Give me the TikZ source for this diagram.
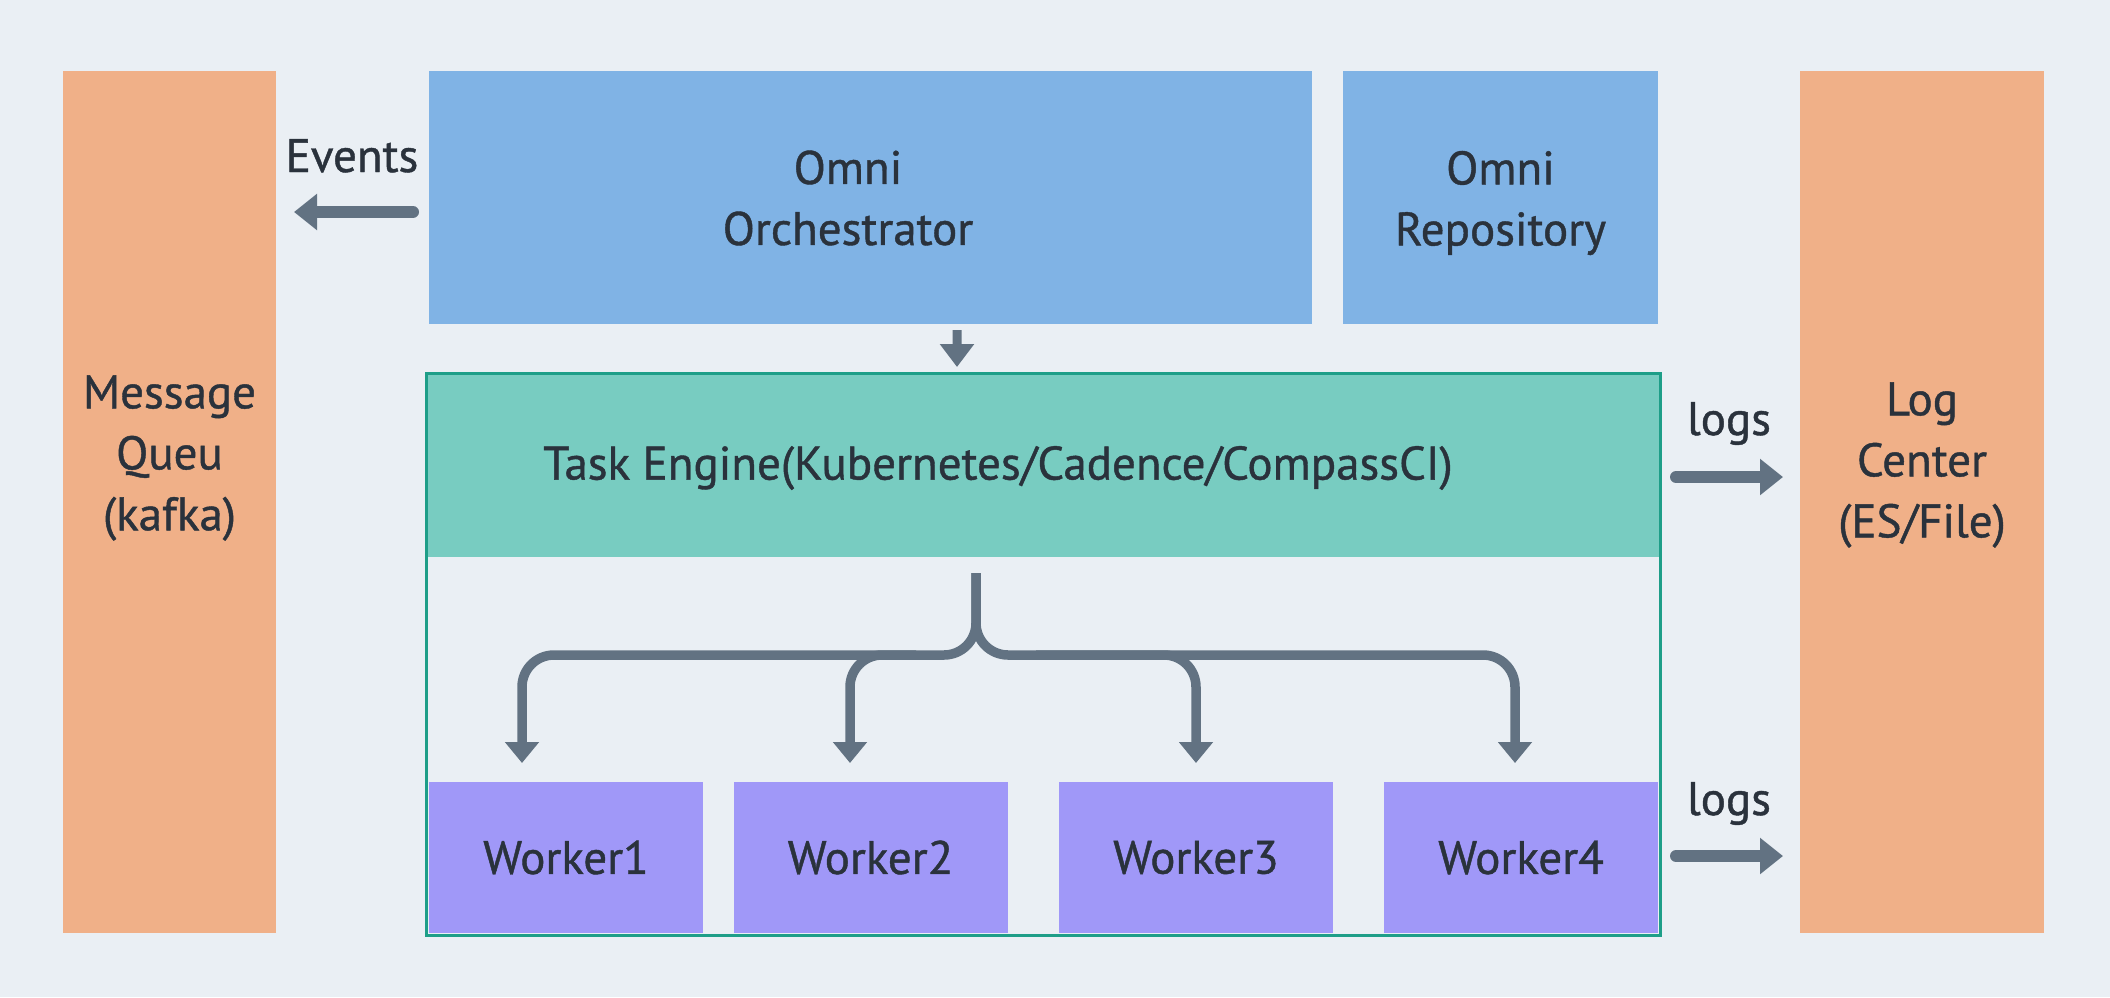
\documentclass[tikz,border=0pt]{standalone}
\usepackage{fontspec}
\setmainfont{PT Sans}[FakeBold=0.9]
\usetikzlibrary{arrows.meta,calc}
\definecolor{bg}{HTML}{EAEFF4}
\definecolor{orangebox}{HTML}{F0B088}
\definecolor{bluebox}{HTML}{80B3E5}
\definecolor{tealbox}{HTML}{78CCC1}
\definecolor{tealline}{HTML}{1E9E88}
\definecolor{purplebox}{HTML}{A098F8}
\definecolor{arrowc}{HTML}{627282}
\definecolor{txt}{HTML}{2A323C}
\tikzset{
  box/.style={inner sep=0pt, outer sep=0pt, draw=none},
  lbl/.style={text=txt, font=\fontsize{23.5}{30.5}\selectfont, align=center, inner sep=0pt},
  big/.style={draw=arrowc, line width=6pt, line cap=round, -{Triangle[width=17.5pt,length=11.5pt]}},
  small/.style={draw=arrowc, line width=4.5pt, -{Triangle[width=16.5pt,length=11.5pt]}},
  br/.style={draw=arrowc, line width=4.75pt, rounded corners=16pt, -{Triangle[width=16.5pt,length=10.5pt]}},
}
\begin{document}
\begin{tikzpicture}[x=0.5pt,y=-0.5pt]
\fill[bg] (0,0) rectangle (2110,997);
\useasboundingbox (0,0) rectangle (2110,997);

% side columns
\node[box, fill=orangebox, minimum width=106.5pt, minimum height=431.15pt] (mq) at (169.5,501.85) {};
\node[box, fill=orangebox, minimum width=122pt, minimum height=431.15pt] (log) at (1922,501.85) {};
\node[lbl] (mqt) at (169.5,458) {Message\\Queu\\(kafka)};
\node[lbl] (logt) at (1922,465) {Log\\Center\\(ES/File)};

% top boxes
\node[box, fill=bluebox, minimum width=441.7pt, minimum height=126.65pt] (orch) at (870.3,197.35) {};
\node[box, fill=bluebox, minimum width=157.5pt, minimum height=126.65pt] (repo) at (1500.5,197.35) {};
\node[lbl] (orcht) at (848,198) {Omni\\Orchestrator};
\node[lbl] (repot) at (1500.5,203) {Omni\\Repository};

% task engine container
\node[box, minimum width=617pt, minimum height=281pt] (cont) at (1043,654) {};
\node[box, fill=tealbox, minimum width=617pt, minimum height=92pt] (hdr) at (1043,465) {};
\node[lbl] (hdrt) at (998,468) {Task Engine(Kubernetes/Cadence/CompassCI)};

% workers
\foreach \n/\cx in {1/566,2/870.5,3/1196,4/1521}{
  \node[box, fill=purplebox, minimum width=137pt, minimum height=75.5pt] (w\n) at (\cx,857.5) {};
  \node[lbl] (w\n t) at (\cx,857.5) {Worker\n};
}
\draw[tealline, line width=1.5pt] (cont.north west) rectangle (cont.south east);

% Events arrow
\coordinate (evs) at ($(orch.west)+(-15.6,14.65)$);
\draw[big] (evs) -- ($(evs -| mq.east)+(18,0)$);
\node[lbl, anchor=base] (evl) at (352,172) {Events};

% orchestrator -> task engine
\draw[small] ($(orch.south)+(86.7,6)$) -- ($(cont.north)+(-86,-6)$);

% logs arrows
\draw[big] ($(hdr.east)+(16,12)$) -- ($(hdr.east -| log.west)+(-17,12)$);
\node[lbl, anchor=base] (logs1) at (1729,435) {logs};
\draw[big] ($(w4.east)+(18,-1.5)$) -- ($(w4.east -| log.west)+(-17,-1.5)$);
\node[lbl, anchor=base] (logs2) at (1729,815) {logs};

% fan-out to workers
\coordinate (stem) at ($(hdr.south)+(-67,16)$);
\coordinate (fork) at ($(hdr.south)+(-67,98)$);
\coordinate (t1) at ($(w1.north west)+(93,-19)$);
\coordinate (t2) at ($(w2.north west)+(116.5,-19)$);
\coordinate (t3) at ($(w3.north west)+(137,-19)$);
\coordinate (t4) at ($(w4.north west)+(131,-19)$);
\draw[br] (stem) -- (fork) -| (t1);
\draw[br] (stem) -- (fork) -| (t4);
\draw[br] ($(fork)+(-60,0)$) -| (t2);
\draw[br] ($(fork)+(60,0)$) -| (t3);
\end{tikzpicture}
\end{document}
